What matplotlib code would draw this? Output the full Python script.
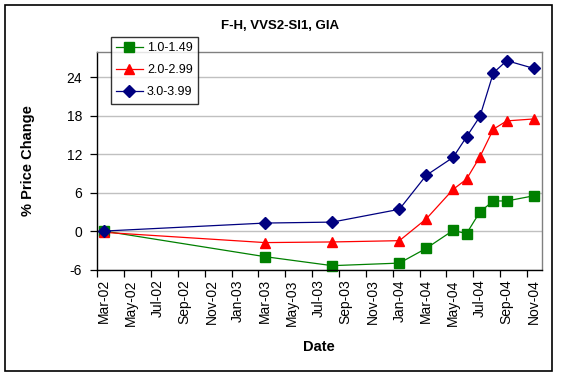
import matplotlib
matplotlib.use("Agg")
import matplotlib.pyplot as plt
from matplotlib.patches import Rectangle

plt.rcParams['font.family'] = ['Liberation Sans', 'DejaVu Sans']

# month labels (every 2 months), Mar-02 .. Nov-04
tick_labels = ["Mar-02", "May-02", "Jul-02", "Sep-02", "Nov-02", "Jan-03", "Mar-03",
               "May-03", "Jul-03", "Sep-03", "Nov-03", "Jan-04", "Mar-04", "May-04",
               "Jul-04", "Sep-04", "Nov-04"]
# observation months (index counted in months from Mar-02)
obs_months = [0, 12, 17, 22, 24, 26, 27, 28, 29, 30, 32]
series_names = ["1.0-1.49", "2.0-2.99", "3.0-3.99"]
s1 = [0.0, -4.0, -5.4, -5.0, -2.7, 0.1, -0.4, 3.0, 4.7, 4.7, 5.5]
s2 = [-0.2, -1.8, -1.7, -1.5, 1.9, 6.5, 8.1, 11.6, 15.9, 17.2, 17.5]
s3 = [0.0, 1.25, 1.4, 3.4, 8.7, 11.5, 14.7, 17.9, 24.7, 26.6, 25.4]
y_ticks = [-6, 0, 6, 12, 18, 24]

W, H = 561, 376
fig = plt.figure(figsize=(W / 100, H / 100), dpi=100)
fig.patches.append(Rectangle((5 / W, 5 / H), 547 / W, 366 / H, transform=fig.transFigure,
                             fill=False, edgecolor='black', linewidth=1.2))

L, R, T, B = 97.3, 541.7, 51.7, 269.5
ax = fig.add_axes([L / W, 1 - B / H, (R - L) / W, (B - T) / H])

styles = [('s', '#008000', 6.5), ('^', '#FF0000', 7.5), ('D', '#000080', 6.0)]
for vals, name, (m, c, ms) in zip([s1, s2, s3], series_names, styles):
    ax.plot(obs_months, vals, color=c, linewidth=0.9, marker=m, markersize=ms,
            markerfacecolor=c, markeredgecolor=c, label=name, clip_on=False)

ax.set_ylim(-6, 28)
ax.set_yticks(y_ticks)
ax.set_yticklabels([str(v) for v in y_ticks], fontsize=10)
ax.set_xlim(-0.5, 32.6)
ax.set_xticks([i * 2 - 0.5 for i in range(17)])
ax.set_xticklabels([])
ax.set_xticks([i * 2 for i in range(17)], minor=True)
ax.set_xticklabels(tick_labels, minor=True, rotation=90, fontsize=10)
ax.tick_params(axis='x', which='minor', length=0, pad=7)
ax.tick_params(axis='x', which='major', length=5, width=0.9, direction='out')
ax.tick_params(axis='y', length=5, width=0.9, direction='out', pad=6)

ax.grid(axis='y', color='#C0C0C0', linewidth=1.0)
ax.set_axisbelow(True)
for s in ['top', 'right']:
    ax.spines[s].set_color('#808080')
    ax.spines[s].set_linewidth(1.0)
for s in ['left', 'bottom']:
    ax.spines[s].set_color('black')
    ax.spines[s].set_linewidth(1.0)

fig.text(28 / W, 1 - 161 / H, "% Price Change", fontsize=10.5, fontweight='bold',
         rotation=90, ha='center', va='center')
fig.text(319 / W, 1 - 347 / H, "Date", fontsize=10.5, fontweight='bold',
         ha='center', va='center')
fig.text(280 / W, 1 - 26 / H, "F-H, VVS2-SI1, GIA", fontsize=9.5, fontweight='bold',
         ha='center', va='center')

leg = ax.legend(loc='upper left', bbox_to_anchor=((110.7 - L) / (R - L), 1 + (T - 36.7) / (B - T)),
                fontsize=9, frameon=True, fancybox=False, edgecolor='black',
                borderpad=0.45, labelspacing=0.8, handlelength=2.1, handletextpad=0.35,
                borderaxespad=0)
leg.get_frame().set_linewidth(1.0)
leg.set_zorder(10)

fig.savefig("out.png", dpi=100)
